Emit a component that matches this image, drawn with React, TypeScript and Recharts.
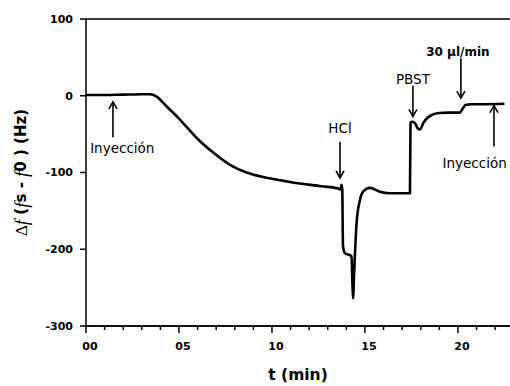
import React from 'react';
import { LineChart, Line, XAxis, YAxis, ReferenceLine, ReferenceDot } from 'recharts';

const times = [0, 1, 2, 3, 3.44, 3.8, 4.34, 5.05, 5.95, 6.84, 7.74, 8.64, 9.53, 10.43, 10.88, 12.67, 13.57, 13.7, 13.74, 13.78, 13.82, 13.92, 14.28, 14.32, 14.36, 14.42, 14.55, 14.73, 14.9, 15.27, 15.8, 16.3, 17.0, 17.42, 17.45, 17.55, 17.7, 17.85, 17.95, 18.15, 18.35, 18.6, 19.0, 19.5, 20.1, 20.25, 20.4, 20.7, 21.5, 22.5];
const deltaF = [1, 1, 1.5, 2, 2, -1, -14, -31, -55, -74, -90, -100, -106, -110, -112, -118, -121, -122, -116, -122, -196, -205, -209, -240, -264, -230, -166, -136, -125, -120, -125, -127, -127, -127, -35, -34, -36, -43, -44, -35, -29, -25, -22.5, -22, -22, -17, -12, -11, -11, -10.5];

const xMajorTicks = [0, 5, 10, 15, 20];
const xMinorTicks = [0, 1, 2, 3, 4, 5, 6, 7, 8, 9, 10, 11, 12, 13, 14, 15, 16, 17, 18, 19, 20, 21, 22];
const xTickLabels = ['00', '05', '10', '15', '20'];
const yTicks = [-300, -200, -100, 0, 100];

// annotation arrows: x position, tip value, tail value, label position
const annLabels = ['Inyección', 'HCl', 'PBST', '30 µl/min', 'Inyección'];
const annX = [1.45, 13.66, 17.58, 20.16, 21.94];
const annTip = [-8, -107, -27, -3, -13];
const annTail = [-54, -60, 13, 49, -66];
const annTextX = [1.95, 13.66, 17.58, 20.0, 20.9];
const annTextY = [-68, -42, 22, 57, -87];
const annBold = [false, false, false, true, false];

const data = times.map((t, i) => ({ t, v: deltaF[i] }));

const SANS = 'DejaVu Sans, sans-serif';
const SERIF = 'Liberation Serif, DejaVu Serif, serif';

const XTick = (props: any) => {
  const { x, y, payload } = props;
  const idx = xMajorTicks.indexOf(payload.value);
  const axisY = y - 8;
  return (
    <g>
      <line x1={x} y1={axisY} x2={x} y2={axisY + (idx >= 0 ? 7 : 4)} stroke="#000" strokeWidth={1.5} />
      {idx >= 0 && (
        <text x={x + 4} y={y + 16} textAnchor="middle" fontFamily={SANS} fontWeight="bold" fontSize={11} fill="#000">
          {xTickLabels[idx]}
        </text>
      )}
    </g>
  );
};

const YLabel = (props: any) => {
  const vb = props.viewBox || {};
  const cx = vb.x - 5;
  const cy = vb.y + vb.height / 2;
  return (
    <text
      x={cx}
      y={cy}
      transform={`rotate(-90, ${cx}, ${cy})`}
      textAnchor="middle"
      dominantBaseline="central"
      fill="#000"
      fontFamily={SANS}
      fontWeight="bold"
      fontSize={15}
    >
      <tspan fontFamily={SERIF} fontWeight="normal" fontSize={17}>Δ</tspan>
      <tspan fontFamily={SERIF} fontStyle="italic" fontWeight="normal" fontSize={19}>f</tspan>
      <tspan> (</tspan>
      <tspan fontFamily={SERIF} fontStyle="italic" fontWeight="normal" fontSize={19}>f</tspan>
      <tspan>s - </tspan>
      <tspan fontFamily={SERIF} fontStyle="italic" fontWeight="normal" fontSize={19}>f</tspan>
      <tspan>0 ) (Hz)</tspan>
    </text>
  );
};

const XLabel = (props: any) => {
  const vb = props.viewBox || {};
  return (
    <text x={vb.x + vb.width / 2} y={vb.y + 54} textAnchor="middle" fontFamily={SANS} fontWeight="bold" fontSize={15.5} fill="#000">
      t (min)
    </text>
  );
};

const makeHead = (up: boolean) => (props: any) => {
  const { cx, cy } = props;
  const d = up ? 7 : -7;
  return (
    <path d={`M${cx - 4},${cy + d} L${cx},${cy} L${cx + 4},${cy + d}`} fill="none" stroke="#000" strokeWidth={1.6} />
  );
};

const makeText = (label: string, bold: boolean) => (props: any) => {
  const { cx, cy } = props;
  return (
    <text x={cx} y={cy} textAnchor="middle" dominantBaseline="central" fontFamily={SANS} fontSize={bold ? 12 : 13.5} fontWeight={bold ? 'bold' : 'normal'} fill="#000">
      {label}
    </text>
  );
};

export default function App() {
  return (
    <div style={{ position: 'absolute', left: 0, top: 0, width: 510, height: 386, background: '#fff' }}>
      <LineChart width={510} height={386} data={data} margin={{ top: 19, right: 0, bottom: 30, left: 26 }}>
        <XAxis
          type="number"
          dataKey="t"
          domain={[0, 22.8]}
          allowDataOverflow
          ticks={xMinorTicks}
          interval={0}
          tickSize={4}
          tickMargin={4}
          tick={<XTick />}
          axisLine={{ stroke: '#111', strokeWidth: 2 }}
          tickLine={false}
          height={30}
          label={{ content: <XLabel /> }}
        />
        <YAxis
          type="number"
          domain={[-300, 100]}
          ticks={yTicks}
          interval={0}
          width={60}
          tickSize={6}
          tickMargin={7}
          axisLine={{ stroke: '#000', strokeWidth: 1.5 }}
          tickLine={{ stroke: '#000', strokeWidth: 1.5 }}
          tick={{ fontFamily: SANS, fontWeight: 'bold', fontSize: 11, fill: '#000' }}
          label={{ content: <YLabel /> }}
        />
        <ReferenceLine y={100} stroke="#000" strokeWidth={1.5} ifOverflow="extendDomain" />
        {annLabels.map((lab, i) => (
          <ReferenceLine
            key={'s' + i}
            segment={[{ x: annX[i], y: annTip[i] }, { x: annX[i], y: annTail[i] }]}
            stroke="#000"
            strokeWidth={1.6}
          />
        ))}
        {annLabels.map((lab, i) => (
          <ReferenceDot key={'h' + i} x={annX[i]} y={annTip[i]} r={1} shape={makeHead(annTip[i] > annTail[i])} />
        ))}
        {annLabels.map((lab, i) => (
          <ReferenceDot key={'t' + i} x={annTextX[i]} y={annTextY[i]} r={1} shape={makeText(lab, annBold[i])} />
        ))}
        <Line
          type="monotone"
          dataKey="v"
          stroke="#000"
          strokeWidth={2.6}
          dot={false}
          isAnimationActive={false}
          strokeLinejoin="round"
        />
      </LineChart>
    </div>
  );
}
